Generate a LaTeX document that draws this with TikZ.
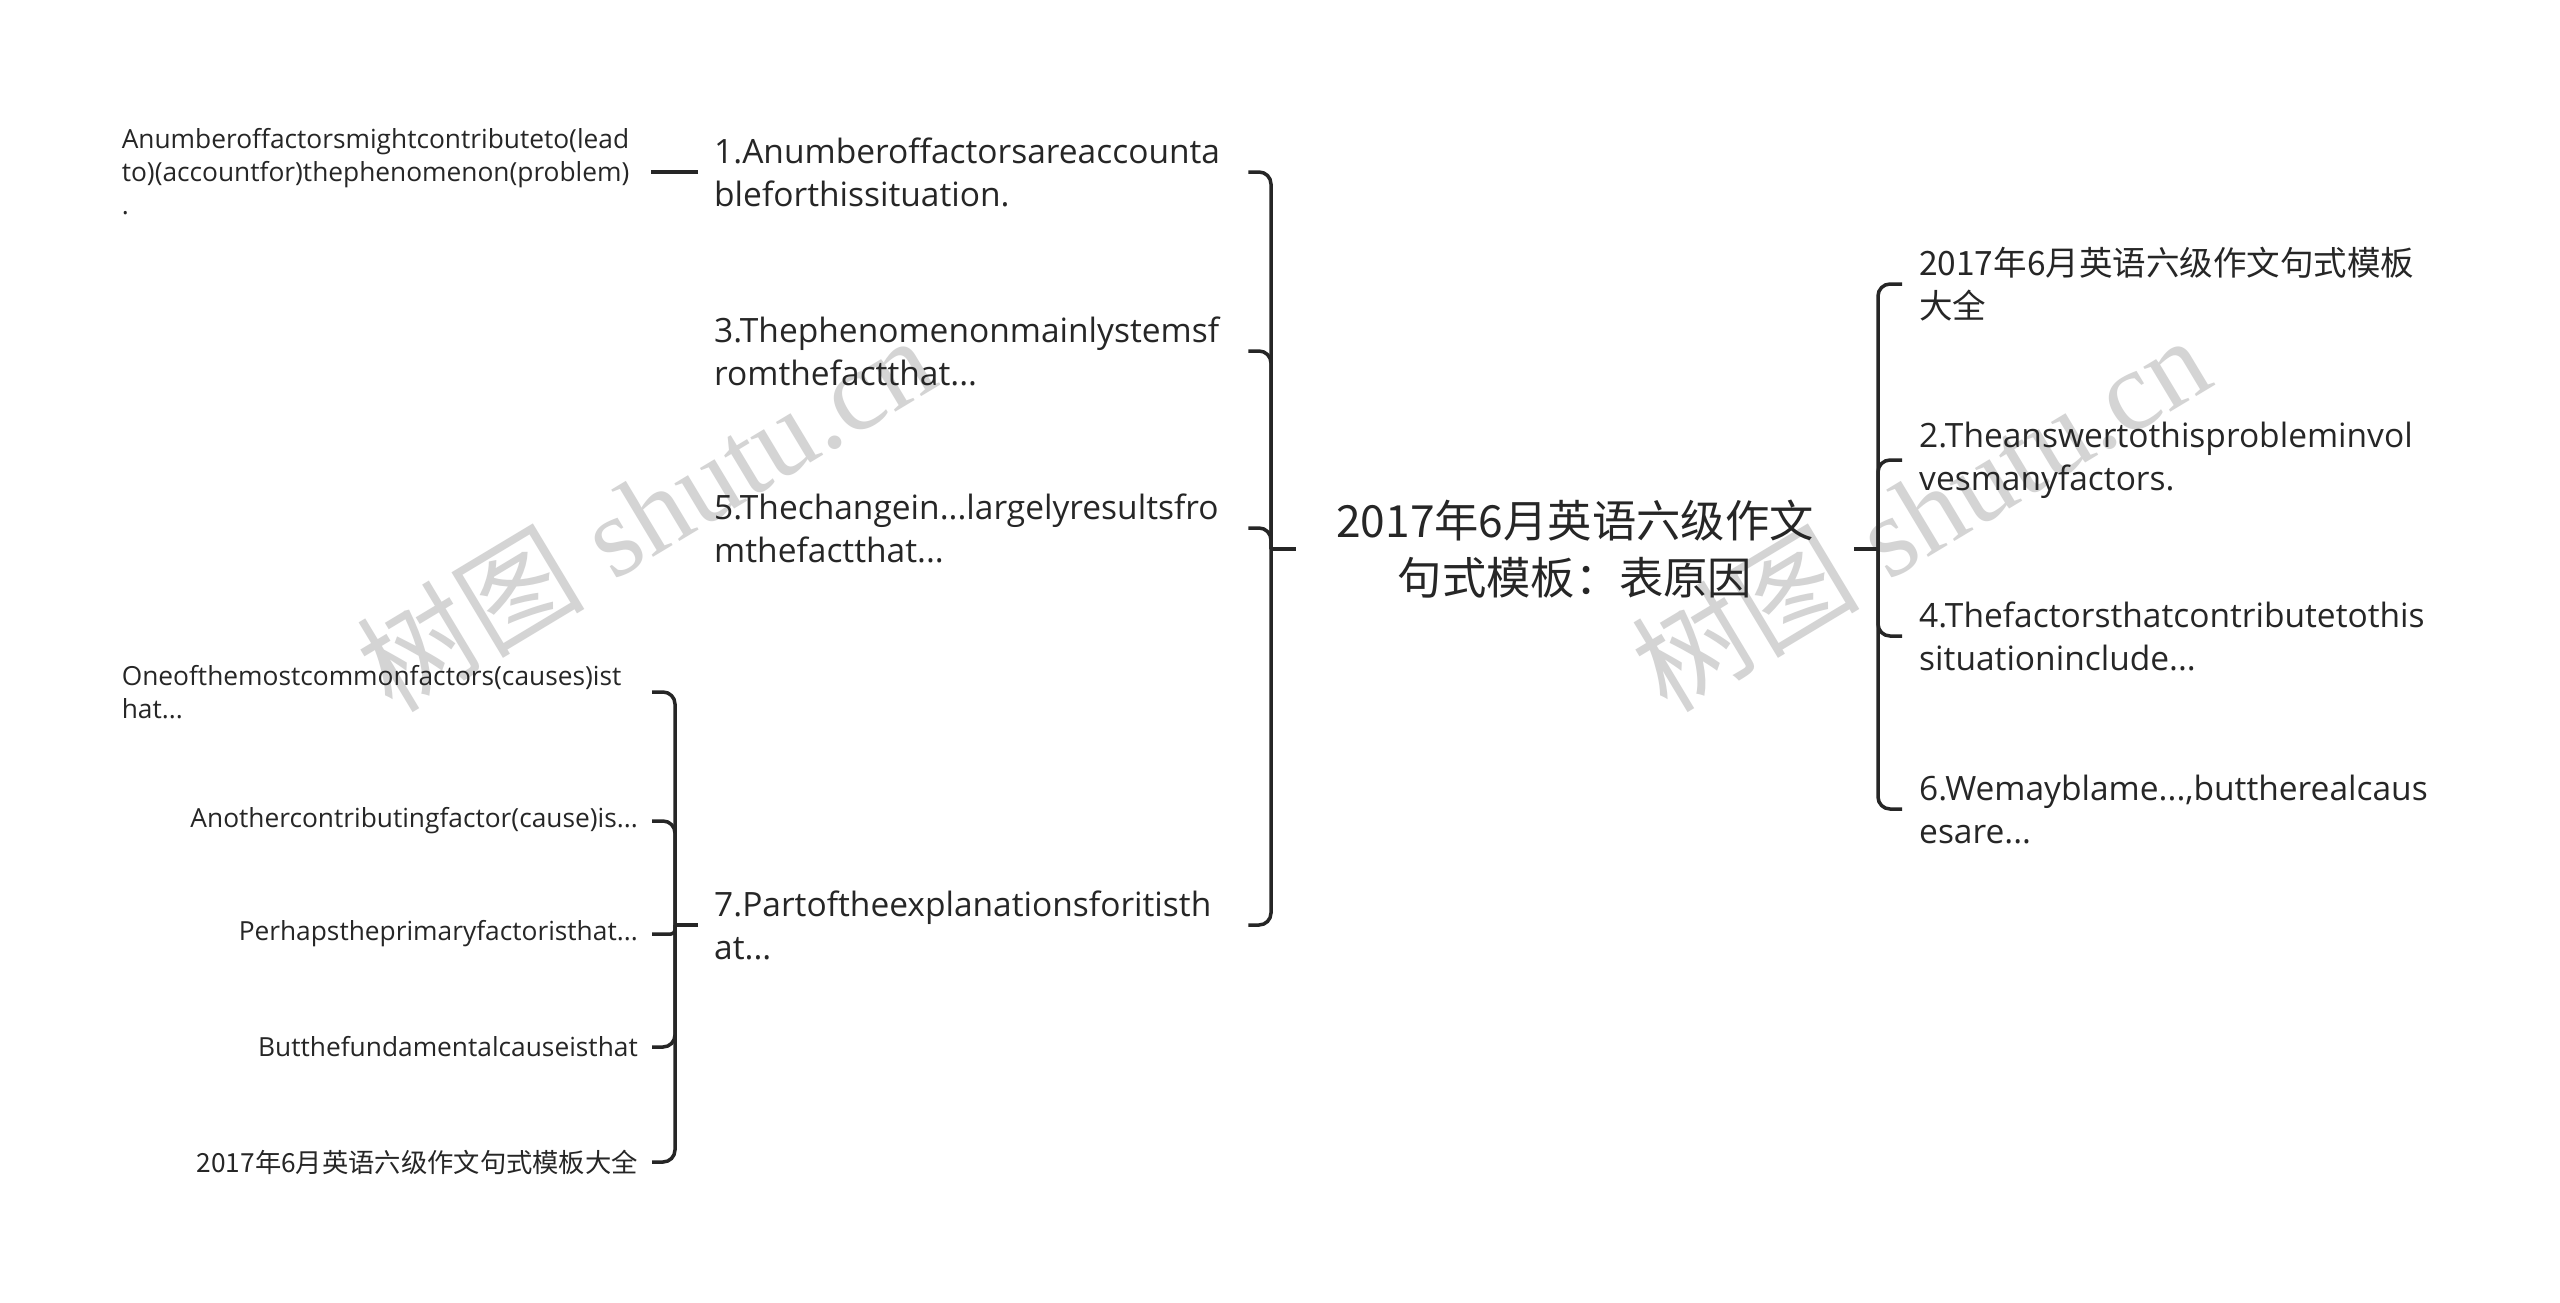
\documentclass[tikz,border=0pt]{standalone}
\usepackage{fontspec}
\setmainfont{Open Sans}
\newfontfamily\cjk{Noto Sans CJK SC}
\newfontfamily\wmserif{Liberation Serif}
\hyphenpenalty=10000
\exhyphenpenalty=10000
\definecolor{ink}{HTML}{262626}
\definecolor{wmgray}{HTML}{D4D4D4}
\begin{document}
\begin{tikzpicture}[x=1pt,y=-1pt,
  every node/.style={text=ink, inner ysep=0pt},
  conn/.style={draw=ink, line width=3.5pt, rounded corners=12pt},
  stub/.style={draw=ink, line width=3.5pt},
  rootnode/.style={font=\fontsize{44.3}{57}\selectfont\cjk, align=center, minimum width=558pt, inner xsep=0pt},
  lvlone/.style={font=\fontsize{33.5}{43}\selectfont, align=left},
  lvlL/.style={lvlone, anchor=west, text width=518pt, inner xsep=16pt},
  lvlR/.style={lvlone, anchor=west, inner xsep=17pt},
  lvltwo/.style={font=\fontsize{26.3}{33}\selectfont, anchor=east, inner xsep=14pt},
  wm/.style={text=wmgray, font=\fontsize{114}{114}\selectfont, rotate=31, inner sep=0pt}
]
\fill[white] (0,0) rectangle (2560,1302);
\useasboundingbox (0,0) rectangle (2560,1302);

% watermarks
\node[wm] (wm1) at (645,512) {{\cjk 树图} {\wmserif shutu.cn}};
\node[wm] (wm2) at (1920,512) {{\cjk 树图} {\wmserif shutu.cn}};

% root
\node[rootnode] (root) at (1575,549) {2017年6月英语六级作文\\句式模板：表原因};

% left first level
\node[lvlL] (n1) at (698,172) {1.Anumberoffactorsareaccounta\\bleforthissituation.};
\node[lvlL] (n3) at (698,351) {3.Thephenomenonmainlystemsf\\romthefactthat...};
\node[lvlL] (n5) at (698,528) {5.Thechangein...largelyresultsfro\\mthefactthat...};
\node[lvlL] (n7) at (698,925) {7.Partoftheexplanationsforitisth\\at...};

% right first level
\node[lvlR] (r1) at (1902,284) {{\cjk 2017年6月英语六级作文句式模板}\\{\cjk 大全}};
\node[lvlR] (r2) at (1902,460) {2.Theanswertothisprobleminvol\\vesmanyfactors.};
\node[lvlR] (r4) at (1902,636) {4.Thefactorsthatcontributetothis\\situationinclude...};
\node[lvlR] (r6) at (1902,809) {6.Wemayblame...,buttherealcaus\\esare...};

% second level
\node[lvltwo, inner xsep=16pt, text width=513pt, align=left] (c1) at (651,172) {Anumberoffactorsmightcontributeto(lead\\to)(accountfor)thephenomenon(problem)\\.};
\node[lvltwo, text width=516pt, align=left] (d1) at (652,692) {Oneofthemostcommonfactors(causes)ist\\hat...};
\node[lvltwo] (d2) at (652,821) {Anothercontributingfactor(cause)is...};
\node[lvltwo] (d3) at (652,934) {Perhapstheprimaryfactoristhat...};
\node[lvltwo] (d4) at (652,1047) {Butthefundamentalcauseisthat};
\node[lvltwo] (d5) at (652,1162) {{\cjk 2017年6月英语六级作文句式模板大全}};

% junctions
\coordinate (jl) at (1271,549);
\coordinate (jr) at (1878,549);
\coordinate (jc) at (675,925);

% connectors
\draw[stub] (root.west) -- (jl);
\draw[stub] (root.east) -- (jr);
\draw[conn] (jl) |- (n1.east);
\draw[conn] (jl) |- (n3.east);
\draw[conn] (jl) |- (n5.east);
\draw[conn] (jl) |- (n7.east);
\draw[conn] (jr) |- (r1.west);
\draw[conn] (jr) |- (r2.west);
\draw[conn] (jr) |- (r4.west);
\draw[conn] (jr) |- (r6.west);
\draw[stub] (n1.west) -- (c1.east);
\draw[stub] (n7.west) -- (jc);
\draw[conn] (jc) |- (d1.east);
\draw[conn] (jc) |- (d2.east);
\draw[conn, rounded corners=4pt] (jc) |- (d3.east);
\draw[conn] (jc) |- (d4.east);
\draw[conn] (jc) |- (d5.east);
\end{tikzpicture}
\end{document}
